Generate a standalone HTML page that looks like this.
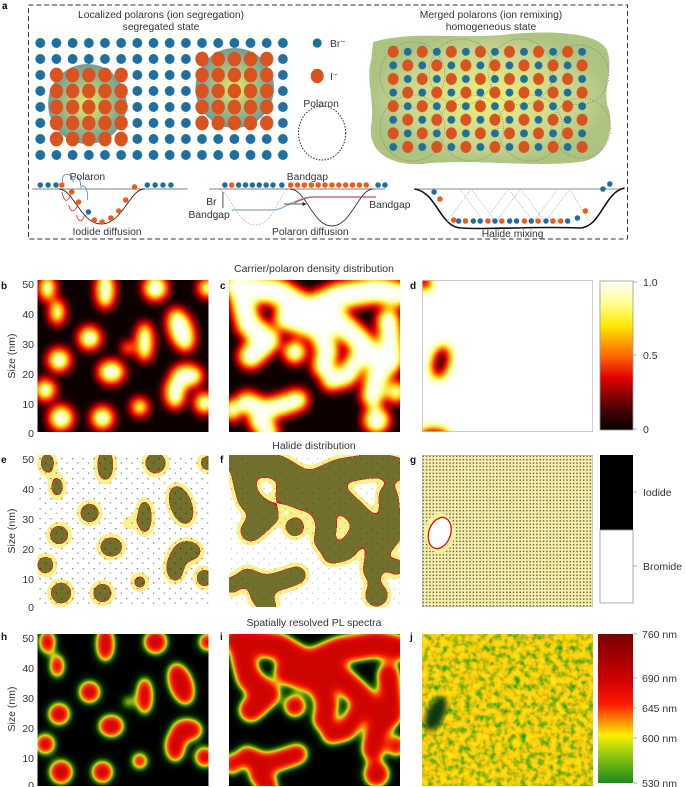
<!DOCTYPE html>
<html><head><meta charset="utf-8"><style>
html,body{margin:0;padding:0;background:#fff;}
svg{display:block;font-family:"Liberation Sans",Arial,sans-serif;}
</style></head><body>
<svg width="685" height="787" viewBox="0 0 685 787" xmlns="http://www.w3.org/2000/svg">
<defs>
<pattern id="pBlue" patternUnits="userSpaceOnUse" x="32.8" y="35" width="16.47" height="16"><circle cx="8.23" cy="8" r="5" fill="#1f6f9c"/></pattern>
<pattern id="pOr" patternUnits="userSpaceOnUse" x="32.8" y="35" width="16.47" height="16"><ellipse cx="8.23" cy="8" rx="6.8" ry="7.4" fill="#d9531e"/></pattern>
<pattern id="pMix" patternUnits="userSpaceOnUse" x="393" y="45" width="29.6" height="27.2">
<ellipse cx="7.4" cy="6.8" rx="5.6" ry="6" fill="#d9531e"/><circle cx="22.2" cy="6.8" r="4" fill="#1f6f9c"/>
<circle cx="7.4" cy="20.4" r="4" fill="#1f6f9c"/><ellipse cx="22.2" cy="20.4" rx="5.6" ry="6" fill="#d9531e"/></pattern>
<radialGradient id="glow"><stop offset="0" stop-color="#e6ec6a"/><stop offset="0.6" stop-color="#9fb98a"/><stop offset="1" stop-color="#6e9d98"/></radialGradient>
<radialGradient id="glow2"><stop offset="0" stop-color="#eef07a"/><stop offset="0.7" stop-color="#c9d68e"/><stop offset="1" stop-color="#adc382"/></radialGradient>
<pattern id="dots" patternUnits="userSpaceOnUse" width="3.4" height="3.4"><rect x="0.6" y="0.6" width="1.4" height="1.4" fill="#222"/></pattern>
<pattern id="sparse" patternUnits="userSpaceOnUse" width="11" height="10"><rect x="2" y="3" width="1.3" height="1.3" fill="#111"/><rect x="7.5" y="7.5" width="1.2" height="1.2" fill="#111"/></pattern>
<linearGradient id="cbHot" x1="0" y1="0" x2="0" y2="1">
<stop offset="0" stop-color="#ffffff"/><stop offset="0.15" stop-color="#ffff90"/><stop offset="0.3" stop-color="#ffe800"/><stop offset="0.5" stop-color="#ff6a00"/><stop offset="0.65" stop-color="#e00000"/><stop offset="0.85" stop-color="#500000"/><stop offset="1" stop-color="#050000"/></linearGradient>
<linearGradient id="cbPL" x1="0" y1="0" x2="0" y2="1">
<stop offset="0" stop-color="#7a0000"/><stop offset="0.3" stop-color="#cc0000"/><stop offset="0.47" stop-color="#ff1a00"/><stop offset="0.57" stop-color="#ff8000"/><stop offset="0.68" stop-color="#ffee00"/><stop offset="0.8" stop-color="#9acb10"/><stop offset="1" stop-color="#1d8a1d"/></linearGradient>

<g id="blobsB" fill="#fff">
<ellipse cx="69" cy="10" rx="9" ry="18"/><circle cx="120" cy="8" r="12"/><circle cx="173" cy="8" r="9"/>
<ellipse cx="10" cy="8" rx="8" ry="12"/><ellipse cx="20" cy="32" rx="7" ry="12"/>
<circle cx="53" cy="58" r="11"/><circle cx="22" cy="80" r="11"/><ellipse cx="75" cy="92" rx="13" ry="11"/>
<ellipse cx="109" cy="62" rx="8" ry="19"/><ellipse cx="146" cy="50" rx="12" ry="22" transform="rotate(-20 146 50)"/>
<ellipse cx="152" cy="96" rx="16" ry="11"/><ellipse cx="140" cy="112" rx="10" ry="16"/>
<circle cx="8" cy="110" r="10"/><circle cx="24" cy="138" r="12"/><circle cx="66" cy="138" r="11"/>
<circle cx="104" cy="127" r="8"/><circle cx="170" cy="123" r="10"/><circle cx="92" cy="68" r="5"/>
</g>
<g id="blobsC" fill="none" stroke="#fff" stroke-linecap="round" stroke-linejoin="round">
<polyline stroke-width="26" points="8,6 50,12 80,30 112,16 150,10 170,14"/>
<polyline stroke-width="24" points="14,22 20,45 40,60 22,76"/>
<polyline stroke-width="24" points="58,38 90,48 112,42 132,60 146,76"/>
<polyline stroke-width="22" points="90,46 100,70 96,86"/>
<polyline stroke-width="22" points="162,40 166,80 150,96 146,116"/>
<polyline stroke-width="20" points="130,80 120,96 104,100"/>
<polyline stroke-width="20" points="18,122 36,130 52,126 70,120"/>
<polyline stroke-width="20" points="30,140 40,152"/>
<circle cx="67" cy="72" r="5" stroke-width="12"/>
<circle cx="150" cy="140" r="6" stroke-width="14"/>
<circle cx="3" cy="130" r="4" stroke-width="12"/>
<circle cx="170" cy="112" r="4" stroke-width="12"/>
</g>

<filter id="hot" filterUnits="userSpaceOnUse" x="-30" y="-30" width="240" height="212" color-interpolation-filters="sRGB">
<feGaussianBlur stdDeviation="5"/>
<feComponentTransfer><feFuncR type="table" tableValues="0.05 0.55 0.95 1 1 1 1"/><feFuncG type="table" tableValues="0 0 0.05 0.4 0.8 1 1"/><feFuncB type="table" tableValues="0 0 0 0 0.05 0.6 1"/></feComponentTransfer>
</filter>
<filter id="pl" filterUnits="userSpaceOnUse" x="-30" y="-30" width="240" height="212" color-interpolation-filters="sRGB">
<feGaussianBlur stdDeviation="5"/>
<feComponentTransfer><feFuncR type="table" tableValues="0 0.02 0.2 0.85 1 0.9 0.8"/><feFuncG type="table" tableValues="0 0.12 0.45 0.85 0.3 0.05 0.02"/><feFuncB type="table" tableValues="0 0 0 0.1 0 0 0"/></feComponentTransfer>
</filter>
<filter id="hal" filterUnits="userSpaceOnUse" x="-30" y="-30" width="240" height="212" color-interpolation-filters="sRGB">
<feGaussianBlur stdDeviation="5"/>
<feComponentTransfer>
<feFuncR type="discrete" tableValues="1 1 1 1 1 0.98 0.98 0.98 0.98 0.98 0.98 0.92 0.45 0.45 0.45 0.45 0.45 0.45 0.45 0.45"/>
<feFuncG type="discrete" tableValues="1 1 1 1 1 0.95 0.95 0.95 0.95 0.95 0.95 0.1 0.44 0.44 0.44 0.44 0.44 0.44 0.44 0.44"/>
<feFuncB type="discrete" tableValues="1 1 1 1 1 0.55 0.55 0.55 0.55 0.55 0.55 0.1 0.18 0.18 0.18 0.18 0.18 0.18 0.18 0.18"/>
</feComponentTransfer>
</filter>
<filter id="noise" filterUnits="userSpaceOnUse" x="0" y="0" width="174" height="152" color-interpolation-filters="sRGB">
<feTurbulence type="fractalNoise" baseFrequency="0.16" numOctaves="2" seed="3"/>
<feColorMatrix type="matrix" values="2.2 0 0 0 -0.2  0.4 0 0 0 0.58  0 0 0 0 0.05  0 0 0 0 1"/>
</filter>
<filter id="bl3"><feGaussianBlur stdDeviation="3"/></filter>
<clipPath id="cp"><rect x="0" y="0" width="174" height="152"/></clipPath>
</defs>

<!-- ROW A -->
<g transform="scale(0.982 1)">
<text x="2" y="9" font-size="10" font-weight="bold">a</text>
<rect x="29" y="5" width="610" height="234" fill="none" stroke="#333" stroke-width="1" stroke-dasharray="5,3"/>
<text x="164" y="18" font-size="10.5" text-anchor="middle" fill="#333">Localized polarons (ion segregation)</text>
<text x="164" y="30" font-size="10.5" text-anchor="middle" fill="#333">segregated state</text>
<text x="500" y="18" font-size="10.5" text-anchor="middle" fill="#333">Merged polarons (ion remixing)</text>
<text x="500" y="30" font-size="10.5" text-anchor="middle" fill="#333">homogeneous state</text>
<circle cx="89" cy="104" r="40" fill="url(#glow)"/>
<circle cx="239" cy="88" r="40" fill="url(#glow)"/>
<rect x="32.8" y="35" width="263.5" height="128" fill="url(#pBlue)"/>
<rect x="49.3" y="67" width="82.3" height="80" fill="url(#pOr)"/>
<rect x="197.5" y="51" width="82.3" height="80" fill="url(#pOr)"/>
<circle cx="323" cy="43" r="4.6" fill="#1f6f9c"/><text x="336" y="47" font-size="10.5" fill="#333">Br⁻</text>
<ellipse cx="323" cy="76" rx="6.6" ry="7.2" fill="#d9531e"/><text x="336" y="80" font-size="10.5" fill="#333">I⁻</text>
<text x="327" y="107" font-size="10.5" text-anchor="middle" fill="#333">Polaron</text>
<ellipse cx="328" cy="133" rx="24" ry="27" fill="none" stroke="#222" stroke-dasharray="1.5,1.5"/>
<path d="M380,42 C420,30 470,40 520,34 C570,30 610,34 618,50 C626,70 612,90 620,110 C626,135 615,160 590,162 C540,168 480,158 430,164 C395,166 374,150 378,125 C382,100 372,80 378,60 Z" fill="url(#glow2)"/>
<g fill="none" stroke="#777" stroke-dasharray="1,1.5" stroke-width="0.7">
<circle cx="420" cy="75" r="33"/><circle cx="470" cy="72" r="33"/><circle cx="530" cy="72" r="33"/><circle cx="590" cy="75" r="30"/>
<circle cx="420" cy="128" r="33"/><circle cx="480" cy="128" r="33"/><circle cx="540" cy="128" r="33"/><circle cx="592" cy="128" r="30"/>
</g>
<rect x="393" y="45" width="207.2" height="108.8" fill="url(#pMix)"/>
<line x1="33" y1="189" x2="191" y2="189" stroke="#555" stroke-width="0.8"/>
<path d="M60,189 C75,189 82,224 103,224 C125,224 132,189 147,189" fill="none" stroke="#222" stroke-width="0.9"/>
<g fill="#1f6f9c"><circle cx="41" cy="185" r="2.8"/><circle cx="49" cy="185" r="2.8"/><circle cx="57" cy="185" r="2.8"/><circle cx="150" cy="185" r="2.8"/><circle cx="158" cy="185" r="2.8"/><circle cx="166" cy="185" r="2.8"/><circle cx="174" cy="185" r="2.8"/><circle cx="90" cy="212" r="2.8"/></g>
<g fill="#ee5a1a"><circle cx="63" cy="185" r="2.8"/><circle cx="73" cy="192" r="2.8"/><circle cx="80" cy="202" r="2.8"/><circle cx="96" cy="220" r="2.8"/><circle cx="104" cy="222" r="2.8"/><circle cx="113" cy="218" r="2.8"/><circle cx="121" cy="211" r="2.8"/><circle cx="128" cy="200" r="2.8"/><circle cx="137" cy="187" r="2.8"/></g>
<path d="M64,182 C62,172 72,172 74,180 M74,182 C76,175 82,176 82,186 M82,188 C86,182 90,190 89,200" fill="none" stroke="#3a8ac4" stroke-width="0.8"/>
<path d="M63,192 C66,205 70,200 72,195 M70,205 C72,215 78,210 79,205 M78,215 C80,225 86,220 86,214" fill="none" stroke="#e02020" stroke-width="0.8"/>
<text x="89" y="180" font-size="10.5" text-anchor="middle" fill="#333">Polaron</text>
<text x="109" y="235" font-size="10.5" text-anchor="middle" fill="#333">Iodide diffusion</text>
<line x1="213" y1="189" x2="392" y2="189" stroke="#555" stroke-width="0.8"/>
<g fill="#1f6f9c"><circle cx="229" cy="185" r="2.8"/><circle cx="243" cy="185" r="2.8"/><circle cx="250" cy="185" r="2.8"/><circle cx="257" cy="185" r="2.8"/><circle cx="264" cy="185" r="2.8"/><circle cx="271" cy="185" r="2.8"/><circle cx="278" cy="185" r="2.8"/><circle cx="287" cy="185" r="2.8"/><circle cx="385" cy="185" r="2.8"/><circle cx="392" cy="185" r="2.8"/></g>
<g fill="#ee5a1a"><circle cx="236" cy="185" r="2.8"/><circle cx="296" cy="185" r="2.8"/><circle cx="303" cy="185" r="2.8"/><circle cx="310" cy="185" r="2.8"/><circle cx="317" cy="185" r="2.8"/><circle cx="324" cy="185" r="2.8"/><circle cx="331" cy="185" r="2.8"/><circle cx="338" cy="185" r="2.8"/><circle cx="345" cy="185" r="2.8"/><circle cx="352" cy="185" r="2.8"/><circle cx="359" cy="185" r="2.8"/><circle cx="366" cy="185" r="2.8"/><circle cx="373" cy="185" r="2.8"/></g>
<path d="M220,189 C235,189 240,225 260,225 C280,225 285,189 295,189" fill="none" stroke="#aaa" stroke-width="0.8" stroke-dasharray="1.5,1.5"/>
<path d="M295,189 C312,189 318,226 338,226 C358,226 365,189 380,189" fill="none" stroke="#333" stroke-width="0.9"/>
<path d="M236,210 H278 C290,210 300,197 320,197 H383" fill="none" stroke="#8aa8c8" stroke-width="1.2"/>
<path d="M300,203 C310,198 315,197 320,197 H383" fill="none" stroke="#c04040" stroke-width="1"/>
<line x1="289" y1="204" x2="312" y2="204" stroke="#222" stroke-width="0.8"/><path d="M312,204 l-4,-2 v4 z" fill="#222"/>
<line x1="227" y1="192" x2="227" y2="208" stroke="#222" stroke-width="0.8"/>
<text x="313" y="180" font-size="10.5" text-anchor="middle" fill="#333">Bandgap</text>
<text x="210" y="205" font-size="10.5" fill="#333">Br</text>
<text x="192" y="218" font-size="10.5" fill="#333">Bandgap</text>
<text x="376" y="208" font-size="10.5" fill="#333">Bandgap</text>
<text x="316" y="235" font-size="10.5" text-anchor="middle" fill="#333">Polaron diffusion</text>
<line x1="422" y1="189" x2="636" y2="189" stroke="#666" stroke-width="0.8"/>
<path d="M422,189 C445,192 448,228 470,228 C500,230 540,226 590,228 C612,228 615,192 636,188" fill="none" stroke="#111" stroke-width="1.6"/>
<path d="M455,222 L480,189 L505,222 L530,189 L555,222 L580,189 L600,222 M468,189 L493,222 L518,189 L543,222 L568,189" fill="none" stroke="#999" stroke-width="0.6" stroke-dasharray="1.2,1.2"/>
<g fill="#1f6f9c"><circle cx="442" cy="192" r="2.8"/><circle cx="467" cy="221" r="2.8"/><circle cx="482" cy="221" r="2.8"/><circle cx="489" cy="221" r="2.8"/><circle cx="504" cy="221" r="2.8"/><circle cx="519" cy="221" r="2.8"/><circle cx="526" cy="221" r="2.8"/><circle cx="541" cy="221" r="2.8"/><circle cx="556" cy="221" r="2.8"/><circle cx="578" cy="221" r="2.8"/><circle cx="588" cy="218" r="2.8"/><circle cx="614" cy="189" r="2.8"/><circle cx="621" cy="184" r="2.8"/></g>
<g fill="#ee5a1a"><circle cx="448" cy="199" r="2.8"/><circle cx="462" cy="220" r="2.8"/><circle cx="474" cy="221" r="2.8"/><circle cx="497" cy="221" r="2.8"/><circle cx="511" cy="221" r="2.8"/><circle cx="534" cy="221" r="2.8"/><circle cx="548" cy="221" r="2.8"/><circle cx="563" cy="221" r="2.8"/><circle cx="571" cy="221" r="2.8"/><circle cx="596" cy="211" r="2.8"/></g>
<text x="522" y="237" font-size="10.5" text-anchor="middle" fill="#333">Halide mixing</text>
</g>

<g font-size="10.5" fill="#333">
<text x="314" y="272" text-anchor="middle">Carrier/polaron density distribution</text>
<text x="314" y="449" text-anchor="middle">Halide distribution</text>
<text x="314" y="626" text-anchor="middle">Spatially resolved PL spectra</text>
</g>
<g font-size="10" font-weight="bold" fill="#111">
<text x="1" y="289">b</text><text x="220" y="289">c</text><text x="410" y="289">d</text>
<text x="1" y="463">e</text><text x="220" y="463">f</text><text x="410" y="463">g</text>
<text x="1" y="640">h</text><text x="220" y="640">i</text><text x="410" y="640">j</text>
</g>
<g font-size="10.5" fill="#333" text-anchor="end">
<text x="34" y="288">50</text><text x="34" y="318">40</text><text x="34" y="348">30</text><text x="34" y="378">20</text><text x="34" y="408">10</text><text x="34" y="437">0</text>
<text x="34" y="463">50</text><text x="34" y="493">40</text><text x="34" y="523">30</text><text x="34" y="553">20</text><text x="34" y="583">10</text><text x="34" y="611">0</text>
<text x="34" y="642">50</text><text x="34" y="672">40</text><text x="34" y="702">30</text><text x="34" y="732">20</text><text x="34" y="762">10</text><text x="34" y="789">0</text>
</g>
<g font-size="10.5" fill="#333">
<text transform="translate(15,356) rotate(-90)" text-anchor="middle">Size (nm)</text>
<text transform="translate(15,531) rotate(-90)" text-anchor="middle">Size (nm)</text>
<text transform="translate(15,709) rotate(-90)" text-anchor="middle">Size (nm)</text>
</g>

<g transform="translate(37.5,280) scale(0.983 1)" clip-path="url(#cp)"><g filter="url(#hot)"><rect x="-30" y="-30" width="240" height="212" fill="#000"/><use href="#blobsB"/></g></g>
<g transform="translate(229,280) scale(0.983 1)" clip-path="url(#cp)"><g filter="url(#hot)"><rect x="-30" y="-30" width="240" height="212" fill="#000"/><use href="#blobsC"/></g></g>
<g transform="translate(422,280) scale(0.983 1)" clip-path="url(#cp)"><g filter="url(#hot)"><rect x="-30" y="-30" width="240" height="212" fill="#fff"/>
<ellipse cx="19" cy="82" rx="8" ry="16" fill="#000" transform="rotate(15 19 82)"/><circle cx="2" cy="2" r="7" fill="#000"/><ellipse cx="12" cy="157" rx="16" ry="8" fill="#000"/></g>
<rect x="0" y="0" width="174" height="152" fill="none" stroke="#bbb" stroke-width="1.5"/></g>

<g transform="translate(37.5,455) scale(0.983 1)" clip-path="url(#cp)"><g filter="url(#hal)"><rect x="-30" y="-30" width="240" height="212" fill="#000"/><use href="#blobsB"/></g><rect width="174" height="152" fill="url(#sparse)" opacity="0.55"/></g>
<g transform="translate(229,455) scale(0.983 1)" clip-path="url(#cp)"><g filter="url(#hal)"><rect x="-30" y="-30" width="240" height="212" fill="#000"/><use href="#blobsC"/></g><rect width="174" height="152" fill="url(#sparse)" opacity="0.25"/></g>
<g transform="translate(422,455) scale(0.983 1)" clip-path="url(#cp)"><rect width="174" height="152" fill="#f6f0a8"/><rect width="174" height="152" fill="url(#dots)" opacity="0.75"/>
<ellipse cx="18" cy="78" rx="15" ry="20" fill="#f8f29a"/><ellipse cx="18" cy="78" rx="11" ry="16" fill="#fff" stroke="#e01010" stroke-width="1.3" transform="rotate(20 18 78)"/>
<rect x="0" y="0" width="174" height="152" fill="none" stroke="#bbb" stroke-width="1.5"/></g>

<g transform="translate(37.5,634) scale(0.983 1)" clip-path="url(#cp)"><g filter="url(#pl)"><rect x="-30" y="-30" width="240" height="212" fill="#000"/><use href="#blobsB"/></g></g>
<g transform="translate(229,634) scale(0.983 1)" clip-path="url(#cp)"><g filter="url(#pl)"><rect x="-30" y="-30" width="240" height="212" fill="#000"/><use href="#blobsC"/></g></g>
<g transform="translate(422,634) scale(0.983 1)" clip-path="url(#cp)"><rect width="174" height="152" filter="url(#noise)"/>
<ellipse cx="14" cy="80" rx="9" ry="18" fill="#0d3a0d" filter="url(#bl3)" transform="rotate(25 14 80)"/></g>

<rect x="600" y="281" width="33" height="149" fill="url(#cbHot)" stroke="#999" stroke-width="0.8"/>
<g stroke="#999" stroke-width="0.8"><line x1="633" y1="282" x2="637" y2="282"/><line x1="633" y1="355" x2="637" y2="355"/><line x1="633" y1="429" x2="637" y2="429"/></g>
<g font-size="10.5" fill="#333"><text x="643" y="286">1.0</text><text x="643" y="359">0.5</text><text x="643" y="433">0</text></g>
<rect x="600" y="455" width="33" height="75" fill="#000"/>
<rect x="600" y="530" width="33" height="73" fill="#fff" stroke="#999" stroke-width="0.8"/>
<g stroke="#999" stroke-width="0.8"><line x1="633" y1="492" x2="637" y2="492"/><line x1="633" y1="566" x2="637" y2="566"/></g>
<g font-size="10.5" fill="#333"><text x="643" y="496">Iodide</text><text x="643" y="570">Bromide</text></g>
<rect x="598" y="634" width="35" height="149" fill="url(#cbPL)"/>
<g stroke="#999" stroke-width="0.8"><line x1="633" y1="634" x2="637" y2="634"/><line x1="633" y1="678" x2="637" y2="678"/><line x1="633" y1="708" x2="637" y2="708"/><line x1="633" y1="738" x2="637" y2="738"/><line x1="633" y1="783" x2="637" y2="783"/></g>
<g font-size="10.5" fill="#333"><text x="642" y="638">760 nm</text><text x="642" y="682">690 nm</text><text x="642" y="712">645 nm</text><text x="642" y="742">600 nm</text><text x="642" y="787">530 nm</text></g>
</svg>
</body></html>
